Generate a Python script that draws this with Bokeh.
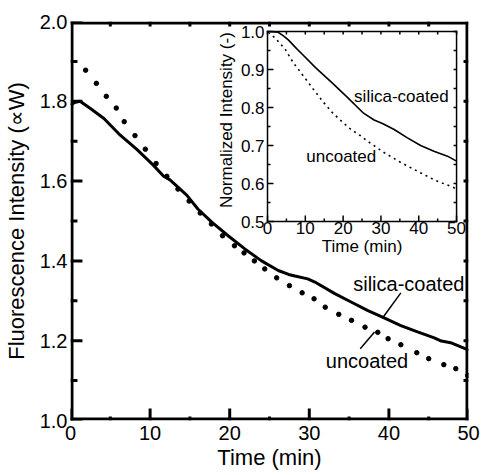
import numpy as np
from bokeh.plotting import figure
from bokeh.models import Range1d, FixedTicker, Label, PrintfTickFormatter
from bokeh.core.properties import value
from bokeh.embed import file_html
from bokeh.resources import INLINE

FONT = "Liberation Sans"

# ---------------- main plot data ----------------
silica_t = [0.0, 0.5, 1.2, 2.5, 4.2, 6.25, 8.3, 10.4, 11.7, 12.5, 14.6, 16.0, 17.75,
            19.8, 21.9, 24.0, 26.1, 27.4, 28.2, 29.8, 30.7, 33.2, 35.25, 37.3, 39.4,
            41.5, 43.6, 45.7, 46.6, 47.75, 49.8, 50.0]
silica_v = [1.790, 1.797, 1.800, 1.782, 1.757, 1.715, 1.680, 1.640, 1.612, 1.603, 1.565,
            1.530, 1.497, 1.463, 1.430, 1.400, 1.376, 1.366, 1.362, 1.355, 1.347, 1.318,
            1.297, 1.276, 1.257, 1.238, 1.222, 1.207, 1.199, 1.195, 1.178, 1.175]

uncoated_t = [1.9, 3.25, 4.5, 5.75, 6.75, 8.1, 9.4, 10.75, 12.1, 13.5, 14.9, 16.3, 17.7,
              19.1, 20.6, 21.8, 23.1, 24.4, 25.9, 27.5, 29.1, 30.6, 32.0, 33.7, 35.3,
              37.0, 38.6, 39.9, 41.5, 43.5, 45.0, 46.9, 48.4, 49.9]
uncoated_v = [1.878, 1.845, 1.8125, 1.783, 1.749, 1.714, 1.680, 1.644, 1.612, 1.580,
              1.550, 1.520, 1.4925, 1.463, 1.438, 1.420, 1.400, 1.380, 1.3575, 1.338,
              1.320, 1.305, 1.284, 1.266, 1.251, 1.234, 1.221, 1.205, 1.190, 1.170,
              1.155, 1.140, 1.130, 1.113]

x_range = (0, 50)
y_range = (1.0, 2.0)
x_ticks = [0, 10, 20, 30, 40, 50]
x_minor = [5, 15, 25, 35, 45]
y_ticks = [1.0, 1.2, 1.4, 1.6, 1.8, 2.0]
y_minor = [1.1, 1.3, 1.5, 1.7, 1.9]
top_ticks = [5, 10, 15, 20, 25, 30, 35, 40, 45]
right_ticks = [1.1, 1.2, 1.3, 1.4, 1.5, 1.6, 1.7, 1.8, 1.9]

# annotation positions (data units)
silica_label = (42.5, 1.341)
uncoated_label = (37.25, 1.150)
silica_leader = ([41.5, 39.2], [1.320, 1.257])
uncoated_leader = ([36.4, 38.2], [1.180, 1.222])

# ---------------- inset data ----------------
in_silica_t = [0.3, 2.8, 4.3, 5.5, 7.7, 9.0, 12.7, 17.1, 21.0, 25.4, 28.2, 30.4, 33.5,
               37.0, 40.5, 44.0, 47.6, 50.0]
in_silica_v = [1.000, 0.998, 0.988, 0.978, 0.955, 0.942, 0.905, 0.865, 0.828, 0.785,
               0.767, 0.758, 0.742, 0.720, 0.700, 0.685, 0.672, 0.659]
in_uncoated_t = [0.2, 2.0, 4.7, 6.8, 9.1, 11.9, 14.7, 17.3, 20.0, 22.1, 24.4, 26.5, 30.9,
                 35.3, 39.7, 44.0, 49.3, 50.0]
in_uncoated_v = [0.998, 0.983, 0.953, 0.918, 0.888, 0.851, 0.815, 0.785, 0.760, 0.742,
                 0.727, 0.711, 0.681, 0.655, 0.632, 0.610, 0.589, 0.585]
in_x_ticks = [0, 10, 20, 30, 40, 50]
in_x_labels = ["0", "10", "20", "30", "40", "50"]
in_x_minor = [5, 15, 25, 35, 45]
in_y_ticks = [0.5, 0.6, 0.7, 0.8, 0.9, 1.0]
in_y_labels = ["0.5", "0.6", "0.7", "0.8", "0.9", "1.0"]
in_y_minor = [0.55, 0.65, 0.75, 0.85, 0.95]
in_x_range = (0, 50)
in_y_range = (0.5, 1.0)
in_silica_label = (35.4, 0.828)
in_uncoated_label = (19.5, 0.670)
in_x_title_pos = (25, 0.434)
in_y_title_pos = (-10.8, 0.767)

# frame / inset geometry (pixels)
FRAME_W, FRAME_H = 400, 399
IN_LEFT, IN_TOP, IN_SIZE = 198, 10, 190

# ---------------- main figure ----------------
p = figure(width=481, height=475, x_range=Range1d(*x_range), y_range=Range1d(*y_range),
           output_backend="svg", toolbar_location=None,
           min_border_left=68, min_border_right=13, min_border_top=21, min_border_bottom=55)
p.grid.visible = False
p.outline_line_color = None

kx = (in_x_range[1] - in_x_range[0]) / IN_SIZE
ky = (in_y_range[1] - in_y_range[0]) / IN_SIZE
ix0 = in_x_range[0] - IN_LEFT * kx
iy1 = in_y_range[1] + IN_TOP * ky
p.extra_x_ranges = {"ix": Range1d(ix0, ix0 + FRAME_W * kx)}
p.extra_y_ranges = {"iy": Range1d(iy1 - FRAME_H * ky, iy1)}

# data units per pixel in the main frame
mx = (x_range[1] - x_range[0]) / FRAME_W
my = (y_range[1] - y_range[0]) / FRAME_H


def style_axis(ax, size):
    ax.axis_line_color = None
    ax.major_tick_line_color = None
    ax.minor_tick_line_color = None
    ax.major_tick_in = 0
    ax.major_tick_out = 0
    ax.minor_tick_in = 0
    ax.minor_tick_out = 0
    ax.major_label_text_font = FONT
    ax.major_label_text_font_size = size
    ax.major_label_text_color = "black"
    ax.axis_label_text_font = FONT
    ax.axis_label_text_font_style = "normal"
    ax.axis_label_text_color = "black"


xa = p.xaxis[0]
xa.ticker = FixedTicker(ticks=x_ticks, minor_ticks=x_minor)
style_axis(xa, "20px")
xa.axis_label = "Time (min)"
xa.axis_label_text_font_size = "22px"
xa.major_label_standoff = 5
xa.axis_label_standoff = 2

ya = p.yaxis[0]
ya.ticker = FixedTicker(ticks=y_ticks, minor_ticks=y_minor)
ya.formatter = PrintfTickFormatter(format="%.1f")
style_axis(ya, "20px")
ya.axis_label = "Fluorescence Intensity (\u221dW)"
ya.axis_label_text_font_size = "22px"
ya.major_label_standoff = 3
ya.axis_label_standoff = 8


def tick_boxes(ticks, side, length, width, xr, yr, ux, uy):
    """Filled rectangles (left, right, bottom, top) for ticks drawn inward from a frame side."""
    L, R, B, T = [], [], [], []
    hw_x, hw_y = width / 2 * ux, width / 2 * uy
    for t in ticks:
        if side == "left":
            L.append(xr[0]); R.append(xr[0] + length * ux); B.append(t - hw_y); T.append(t + hw_y)
        elif side == "right":
            L.append(xr[1] - length * ux); R.append(xr[1]); B.append(t - hw_y); T.append(t + hw_y)
        elif side == "bottom":
            L.append(t - hw_x); R.append(t + hw_x); B.append(yr[0]); T.append(yr[0] + length * uy)
        else:
            L.append(t - hw_x); R.append(t + hw_x); B.append(yr[1] - length * uy); T.append(yr[1])
    return L, R, B, T


def frame_boxes(xr, yr, width, ux, uy, inside=True):
    """Four filled bars forming a rectangular frame."""
    wx, wy = width * ux, width * uy
    if inside:
        x0, x1, y0, y1 = xr[0], xr[1], yr[0], yr[1]
        return ([x0, x1 - wx, x0, x0], [x0 + wx, x1, x1, x1],
                [y0, y0, y0, y1 - wy], [y1, y1, y0 + wy, y1])
    hx, hy = wx / 2, wy / 2
    x0, x1, y0, y1 = xr[0], xr[1], yr[0], yr[1]
    return ([x0 - hx, x1 - hx, x0 - hx, x0 - hx], [x0 + hx, x1 + hx, x1 + hx, x1 + hx],
            [y0 - hy, y0 - hy, y0 - hy, y1 - hy], [y1 + hy, y1 + hy, y0 + hy, y1 + hy])


# main data
p.line(silica_t, silica_v, line_width=3, line_color="black")
p.scatter(uncoated_t, uncoated_v, size=4.5, fill_color="black", line_color="black")
p.line(silica_leader[0], silica_leader[1], line_width=1.5, line_color="black")
p.line(uncoated_leader[0], uncoated_leader[1], line_width=1.5, line_color="black")

# main frame and ticks as filled bars
fl, fr, fb, ft = frame_boxes(x_range, y_range, 3, mx, my, inside=True)
p.quad(left=fl, right=fr, bottom=fb, top=ft, fill_color="black", line_color=None)
for ticks, side, length in [(y_ticks, "left", 12), (y_minor, "left", 7),
                            (x_ticks, "bottom", 12), (x_minor, "bottom", 4),
                            (top_ticks, "top", 5), (right_ticks, "right", 5)]:
    l, r, b, t = tick_boxes(ticks, side, length, 3, x_range, y_range, mx, my)
    p.quad(left=l, right=r, bottom=b, top=t, fill_color="black", line_color=None)

for (lx, ly), txt in [(silica_label, "silica-coated"), (uncoated_label, "uncoated")]:
    p.add_layout(Label(x=lx, y=ly, text=txt, text_align="center", text_baseline="middle",
                       text_font=FONT, text_font_size="20px", text_color="black"))

# ---------------- inset (drawn on the extra ranges) ----------------
RN = dict(x_range_name="ix", y_range_name="iy")
p.quad(left=[in_x_range[0]], right=[in_x_range[1]], bottom=[in_y_range[0]],
       top=[in_y_range[1]], fill_color="white", line_color=None, **RN)

# inset curves
p.line(in_silica_t, in_silica_v, line_width=1.6, line_color="black", **RN)
p.line(in_uncoated_t, in_uncoated_v, line_width=1.6, line_color="black",
       line_dash="2 4", **RN)

il, ir, ib, it = frame_boxes(in_x_range, in_y_range, 1.5, kx, ky, inside=False)
p.quad(left=il, right=ir, bottom=ib, top=it, fill_color="black", line_color=None, **RN)
for ticks, side, length in [(in_x_ticks, "bottom", 6), (in_x_minor, "bottom", 3),
                            (in_x_ticks + in_x_minor, "top", 3),
                            (in_y_ticks, "left", 6), (in_y_minor, "left", 3),
                            (in_y_ticks + in_y_minor, "right", 3)]:
    l, r, b, t = tick_boxes(ticks, side, length, 1.5, in_x_range, in_y_range, kx, ky)
    p.quad(left=l, right=r, bottom=b, top=t, fill_color="black", line_color=None, **RN)

# inset tick labels
p.text(x=in_x_ticks, y=[in_y_range[0]] * len(in_x_ticks), text=in_x_labels,
       text_align="center", text_baseline="top", text_font=value(FONT),
       text_font_size="17px", text_color="black", **RN)
p.text(x=[in_x_range[0]] * len(in_y_ticks), y=in_y_ticks, text=in_y_labels,
       text_align="right", text_baseline="middle", x_offset=-3, text_font=value(FONT),
       text_font_size="17px", text_color="black", **RN)

for (lx, ly), txt in [(in_silica_label, "silica-coated"), (in_uncoated_label, "uncoated"),
                      (in_x_title_pos, "Time (min)")]:
    p.add_layout(Label(x=lx, y=ly, text=txt, text_align="center", text_baseline="middle",
                       text_font=FONT, text_font_size="17px", text_color="black", **RN))
p.add_layout(Label(x=in_y_title_pos[0], y=in_y_title_pos[1], text="Normalized Intensity (-)",
                   angle=1.5708, text_align="center", text_baseline="middle",
                   text_font=FONT, text_font_size="17px", text_color="black", **RN))

open("out.html", "w").write(file_html(p, INLINE))
